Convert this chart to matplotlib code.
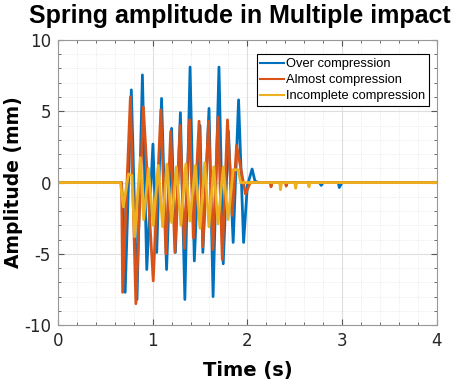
import matplotlib
matplotlib.use("Agg")
import matplotlib.pyplot as plt
from matplotlib.ticker import MultipleLocator

plt.rcParams["axes.unicode_minus"] = False

# peak / trough vertices (time in s, amplitude in mm)
over_t = [0, 0.67, 0.69, 0.71, 0.775, 0.835, 0.892, 0.938, 1.003, 1.043, 1.094, 1.147,
          1.2, 1.24, 1.293, 1.34, 1.395, 1.44, 1.5, 1.53, 1.595, 1.638, 1.70, 1.745,
          1.80, 1.85, 1.907, 1.96, 2.0, 2.05, 2.08, 2.12, 2.76, 2.78, 2.8, 2.9, 2.96,
          2.97, 3.0, 4.0]
over_v = [0, 0, -1.9, -7.7, 6.5, -8.2, 7.55, -6.1, 2.7, -4.9, 5.9, -6.1,
          3.8, -4.9, 4.9, -8.2, 8.1, -5.5, 4.0, -4.9, 5.2, -8.0, 8.1, -5.7,
          3.6, -4.2, 5.8, -4.2, -0.2, 0.95, 0.1, 0.0, 0.0, -0.2, 0.0, 0.0, 0.0,
          -0.35, 0.0, 0.0]

almost_t = [0, 0.672, 0.683, 0.765, 0.823, 0.902, 1.006, 1.087, 1.14, 1.19, 1.235,
            1.29, 1.335, 1.39, 1.43, 1.49, 1.53, 1.59, 1.636, 1.69, 1.735, 1.79,
            1.84, 1.886, 1.98, 2.03, 2.24, 2.25, 2.26, 2.4, 2.41, 2.42, 4.0]
almost_v = [0, 0, -7.7, 6.0, -8.5, 5.3, -6.9, 5.1, -5.0, 3.6, -4.9,
            4.0, -4.6, 4.4, -3.9, 4.3, -4.5, 4.3, -4.7, 4.6, -5.4, 4.4,
            -2.3, 2.6, -0.8, 0.0, 0.0, -0.3, 0.0, 0.0, -0.25, 0.0, 0.0]

incomplete_t = [0, 0.66, 0.69, 0.745, 0.78, 0.81, 0.87, 0.905, 0.955, 1.006, 1.06,
                1.105, 1.15, 1.2, 1.25, 1.298, 1.35, 1.393, 1.45, 1.5, 1.55, 1.594,
                1.645, 1.69, 1.745, 1.797, 1.85, 1.9, 1.93, 2.34, 2.35, 2.36, 2.5,
                2.51, 2.52, 2.64, 2.65, 2.66, 4.0]
incomplete_v = [0, 0, -1.7, 0.6, 0.5, -3.8, 1.75, -2.6, 1.0, -3.0, 1.2,
                -3.1, 1.3, -2.8, 1.1, -3.0, 1.3, -2.7, 1.2, -3.2, 1.4, -3.1,
                1.1, -2.9, 1.1, -2.6, 0.9, 0.9, 0.0, 0.0, -0.5, 0.0, 0.0,
                -0.4, 0.0, 0.0, -0.3, 0.0, 0.0]

labels = ["Over compression", "Almost compression", "Incomplete compression"]
colors = ["#0072BD", "#D95319", "#EDB120"]

fig = plt.figure(figsize=(4.56, 3.88), dpi=100)
ax = fig.add_axes([0.127, 0.162, 0.831, 0.735])

for t, v, lab, c in zip([over_t, almost_t, incomplete_t],
                        [over_v, almost_v, incomplete_v], labels, colors):
    ax.plot(t, v, color=c, linewidth=2.0, label=lab)

ax.set_xlim(0, 4)
ax.set_ylim(-10, 10)
ax.xaxis.set_major_locator(MultipleLocator(1))
ax.xaxis.set_minor_locator(MultipleLocator(0.2))
ax.yaxis.set_major_locator(MultipleLocator(5))
ax.yaxis.set_minor_locator(MultipleLocator(1))
ax.grid(True, which="major", color="#dedede", linewidth=0.8)
ax.grid(True, which="minor", color="#e4e4e4", linewidth=0.6, linestyle=":")
ax.set_axisbelow(True)
ax.tick_params(which="both", direction="in", top=True, right=True,
               color="#555555", labelsize=12, labelcolor="#262626", pad=5)
ax.tick_params(which="major", length=4)
ax.tick_params(which="minor", length=2)
for s in ax.spines.values():
    s.set_color("#999999")
    s.set_linewidth(0.8)

ax.set_xlabel("Time (s)", fontsize=14, fontweight="bold", labelpad=8)
ax.set_ylabel("Amplitude (mm)", fontsize=13.5, fontweight="bold", labelpad=1)
fig.suptitle("Spring amplitude in Multiple impact", x=0.526, y=0.99,
             fontsize=18, fontweight="bold", family="Liberation Sans")

leg = ax.legend(loc="upper right", bbox_to_anchor=(0.98, 0.95),
                prop={"family": "Liberation Sans", "size": 9.3},
                fancybox=False, edgecolor="black", framealpha=1,
                handlelength=1.8, handletextpad=0.2, borderpad=0.3,
                labelspacing=0.32, borderaxespad=0)
leg.get_frame().set_linewidth(0.8)
for line in leg.get_lines():
    line.set_linewidth(1.5)

fig.savefig("out.png", dpi=100)
